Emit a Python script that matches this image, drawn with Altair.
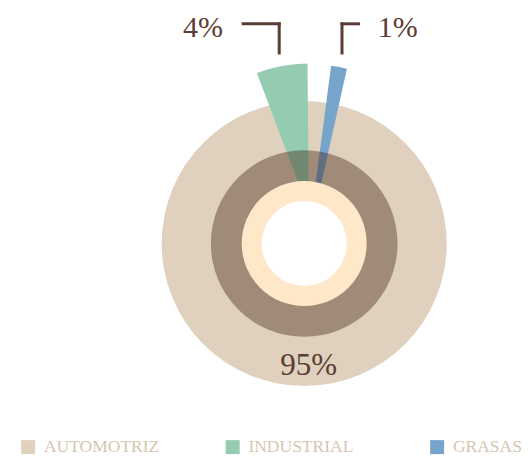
import math
import altair as alt
import pandas as pd

# ---- data ----
categories = ["AUTOMOTRIZ", "INDUSTRIAL", "GRASAS"]
values = [95, 4, 1]
labels = ["95%", "4%", "1%"]
colors = ["#dfd1bd", "#94cbb1", "#76a4cb"]

df = pd.DataFrame({"category": categories, "value": values, "label": labels})

# ---- layout / style constants ----
W, H = 515, 448
CX, CY = 296.2, 235.5            # centre of the disc
TXT = "#5a3d35"
FONT = "Liberation Serif"
RAD_PER_PCT = 0.088              # angular size of 1% for the protruding wedges

color_enc = alt.Color(
    "category:N",
    scale=alt.Scale(domain=categories, range=colors),
    legend=alt.Legend(
        title=None, orient="none", legendX=11.4, legendY=430,
        direction="horizontal", symbolType="square", symbolSize=196,
        symbolStrokeWidth=0, symbolOpacity=1, labelFont=FONT,
        labelFontSize=17.5, labelColor="#d6c6b0", labelOffset=7,
        columnPadding=64.5, gridAlign="all", padding=0,
    ),
)

base = alt.Chart(df)

# beige disc (AUTOMOTRIZ)
disc = base.transform_filter(alt.datum.category == "AUTOMOTRIZ").mark_arc(
    radius=142.5
).encode(
    theta=alt.Theta("value:Q", stack=True,
                    scale=alt.Scale(domain=[0, 95], range=[0, 2 * math.pi])),
    color=color_enc,
    x=alt.value(CX), y=alt.value(CY),
)

def wedge(cat, start, radius, cx, cy):
    return base.transform_filter(alt.datum.category == cat).mark_arc(
        radius=radius
    ).encode(
        theta=alt.Theta("value:Q", stack=True,
                        scale=alt.Scale(domain=[0, 100],
                                        range=[start, start + 100 * RAD_PER_PCT])),
        color=color_enc,
        x=alt.value(cx), y=alt.value(cy),
    )

green = wedge("INDUSTRIAL", 5.9215, 147, 300.9, 202.6)
blue = wedge("GRASAS", 0.1314, 182, 299.3, 238.3)

def ring(r, col, op=1.0):
    return base.transform_filter(alt.datum.category == "AUTOMOTRIZ").mark_arc(
        radius=r, color=col, opacity=op
    ).encode(
        theta=alt.value(0), theta2=alt.value(2 * math.pi),
        x=alt.value(CX), y=alt.value(CY),
    )

dark = ring(93.3, "#3a1808", 0.38)
cream = ring(62.5, "#fee8c9")
white = ring(42.5, "#ffffff")

def label(cat, x, y, size):
    return base.transform_filter(alt.datum.category == cat).mark_text(
        font=FONT, fontSize=size, color=TXT, align="center", baseline="alphabetic"
    ).encode(text="label:N", x=alt.value(x), y=alt.value(y))

t95 = label("AUTOMOTRIZ", 300.7, 367, 31)
t4 = label("INDUSTRIAL", 194.9, 28.7, 30)
t1 = label("GRASAS", 389.8, 28.7, 30)

def seg(x1, y1, x2, y2):
    return base.transform_filter(alt.datum.category == "AUTOMOTRIZ").mark_rule(
        color=TXT, strokeWidth=3, strokeCap="square"
    ).encode(x=alt.value(x1), x2=alt.value(x2), y=alt.value(y1), y2=alt.value(y2))

brackets = [
    seg(235.2, 15.8, 271.2, 15.8),
    seg(271.2, 15.8, 271.2, 45.0),
    seg(334.0, 15.8, 350.5, 15.8),
    seg(334.0, 15.8, 334.0, 45.0),
]

chart = alt.layer(disc, green, blue, dark, cream, white, t95, t4, t1, *brackets).resolve_scale(
    theta="independent"
).properties(
    width=W, height=H, autosize="none", padding=0
).configure_view(stroke=None)

chart.save("out.html", embed_options={"renderer": "svg", "actions": False})
